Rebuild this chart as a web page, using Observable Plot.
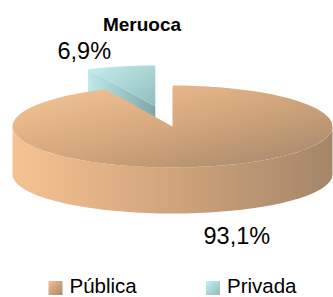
<!DOCTYPE html>
<html>
<head>
<meta charset="utf-8">
<script src="https://cdn.jsdelivr.net/npm/d3@7"></script>
<script src="https://cdn.jsdelivr.net/npm/@observablehq/plot@0.6"></script>
<style>
  html, body { margin: 0; padding: 0; background: #fff; }
  #chart svg { display: block; background: #fff; }
</style>
</head>
<body>
<div id="chart"></div>
<script>
// ---- data ----
const title = "Meruoca";
const categories = ["Pública", "Privada"];
const values = [93.1, 6.9];
const valueLabels = ["93,1%", "6,9%"];

// ---- layout (pixel space of the 333x297 picture) ----
const W = 333, H = 297;
const cx = 172, cy = 126, rx = 160, ry = 41;   // top ellipse
const depth = 48, ryBottom = 39;                 // side wall
const explode = [0, 0.5];
const labelPos = [[203, 243], [57, 58]];
const titlePos = [141.5, 30];
const legendPos = [[55, 287.5], [212.5, 287.5]];
const font = "Liberation Sans, Arial, sans-serif";

const arcs = d3.pie().sort(null).value(d => d)(values);

function pt(t, ox, oy, dy = 0, ryy = ry) {
  return { x: cx + ox + rx * Math.sin(t), y: cy + oy - ryy * Math.cos(t) + dy };
}
function arcPts(t0, t1, ox, oy, dy = 0, ryy = ry, n = 80) {
  const out = [];
  for (let i = 0; i <= n; i++) out.push(pt(t0 + (t1 - t0) * i / n, ox, oy, dy, ryy));
  return out;
}

const faces = [];
arcs.forEach((a, i) => {
  const mid = (a.startAngle + a.endAngle) / 2;
  const ox = explode[i] * rx * Math.sin(mid);
  const oy = -explode[i] * ry * Math.cos(mid);
  const V = { x: cx + ox, y: cy + oy };
  const key = i === 0 ? "pub" : "priv";
  if (i === 1) {
    const P = pt(a.startAngle, ox, oy);
    faces.push({ order: 0, fill: `url(#${key}Face)`, pts: [V, P, { x: P.x, y: P.y + depth }, { x: V.x, y: V.y + depth }] });
  }
  const s0 = Math.max(a.startAngle, Math.PI / 2), s1 = Math.min(a.endAngle, 3 * Math.PI / 2);
  if (s1 > s0) {
    const topArc = arcPts(s0, s1, ox, oy);
    const botArc = arcPts(s1, s0, ox, oy, depth, ryBottom);
    faces.push({ order: i === 0 ? 2 : 1, fill: `url(#${key}Side)`, pts: [...topArc, ...botArc] });
  }
  faces.push({ order: i === 0 ? 3 : 1.5, fill: `url(#${key}Top)`, pts: [V, ...arcPts(a.startAngle, a.endAngle, ox, oy), V] });
});
faces.sort((a, b) => a.order - b.order);

const faceMarks = faces.map(f =>
  Plot.line(f.pts, { x: "x", y: "y", fill: f.fill, stroke: "none", curve: "linear-closed" })
);

const labelData = categories.map((c, i) => ({ c, text: valueLabels[i], x: labelPos[i][0], y: labelPos[i][1] }));
const legendData = categories.map((c, i) => ({ c, x: legendPos[i][0], y: legendPos[i][1] }));

const plot = Plot.plot({
  width: W, height: H,
  margin: 0,
  x: { domain: [0, W], range: [0, W], axis: null },
  y: { domain: [0, H], range: [0, H], axis: null },
  style: { fontFamily: font, background: "#fff" },
  marks: [
    ...faceMarks,
    Plot.text([title], { x: () => titlePos[0], y: () => titlePos[1], text: d => d, fontSize: 19, fontWeight: "bold", fill: "#000", textAnchor: "middle", lineAnchor: "bottom" }),
    Plot.text(labelData, { x: "x", y: "y", text: "text", fontSize: 23.5, fill: "#000", textAnchor: "start", lineAnchor: "bottom" }),
    Plot.dot(legendData.slice(0, 1), { x: "x", y: "y", symbol: "square", r: 7.9, fill: "url(#pubLeg)", stroke: "none" }),
    Plot.dot(legendData.slice(1), { x: "x", y: "y", symbol: "square", r: 7.9, fill: "url(#privLeg)", stroke: "none" }),
    Plot.text(legendData, { x: d => d.x + 14, y: d => d.y + 5, text: "c", fontSize: 20.5, fill: "#000", textAnchor: "start", lineAnchor: "bottom" })
  ]
});

const svg = d3.select(plot);
const defs = svg.insert("defs", ":first-child");
function grad(id, x2, y2, stops) {
  const g = defs.append("linearGradient").attr("id", id)
    .attr("x1", 0).attr("y1", 0).attr("x2", x2).attr("y2", y2);
  stops.forEach(([o, c]) => g.append("stop").attr("offset", o).attr("stop-color", c));
}
grad("pubTop", 1, 1, [[0, "#f6c798"], [0.5, "#d4a77c"], [1, "#a2856a"]]);
grad("pubSide", 1, 0, [[0, "#f5c393"], [0.5, "#d0a47b"], [1, "#a48669"]]);
grad("pubLeg", 1, 1, [[0, "#f2c092"], [1, "#a88a6c"]]);
grad("privTop", 1, 1, [[0, "#c6efef"], [1, "#8fbcbc"]]);
grad("privFace", 1, 0, [[0, "#bfe9e9"], [1, "#7ea6a6"]]);
grad("privSide", 1, 0, [[0, "#bfe9e9"], [1, "#7ea6a6"]]);
grad("privLeg", 1, 1, [[0, "#c8f0f0"], [1, "#8fbaba"]]);

document.getElementById("chart").appendChild(plot);
</script>
</body>
</html>
